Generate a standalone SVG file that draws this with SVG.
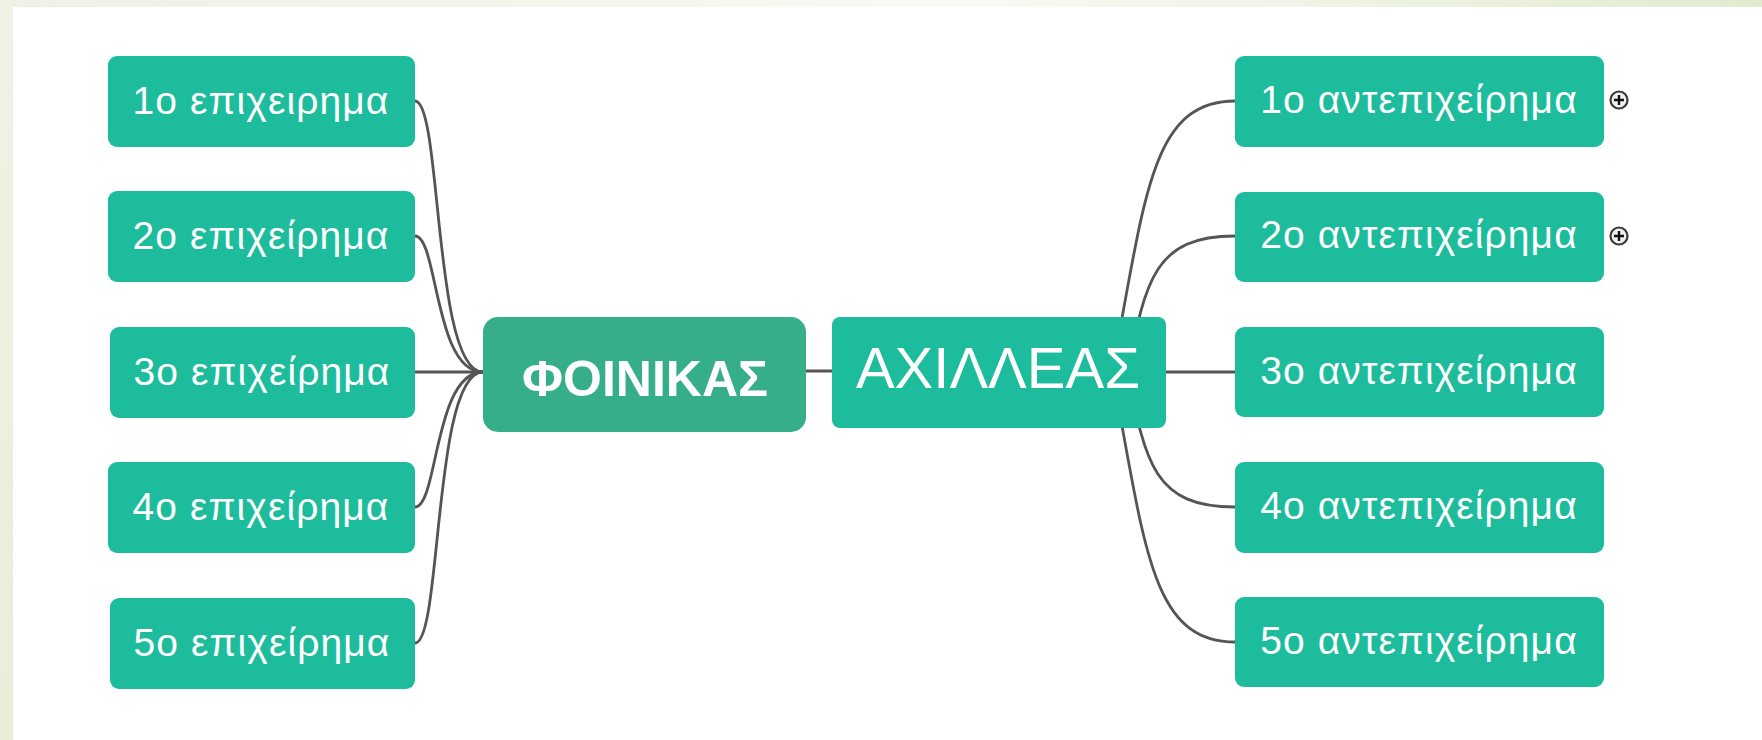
<svg xmlns="http://www.w3.org/2000/svg" width="1762" height="740" viewBox="0 0 1762 740">
  <defs>
    <linearGradient id="topband" x1="0" y1="0" x2="1" y2="0">
      <stop offset="0" stop-color="#eef1e3"/>
      <stop offset="0.55" stop-color="#f9faf4"/>
      <stop offset="1" stop-color="#e4ead0"/>
    </linearGradient>
    <linearGradient id="leftband" x1="0" y1="0" x2="0" y2="1">
      <stop offset="0" stop-color="#eff2e5"/>
      <stop offset="1" stop-color="#e9eed9"/>
    </linearGradient>
    <style>
      .child { fill: #1dbc9c; }
      .ctext { font-family: "Liberation Sans", Arial, sans-serif; font-size: 39px; letter-spacing: 1.1px; fill: #ffffff; text-anchor: middle; }
      .conn { fill: none; stroke: #555555; stroke-width: 2.8; stroke-linecap: round; }
      .plus-ring { fill: #f0f0f0; stroke: #3a3a3a; stroke-width: 2.2; }
      .plus-mark { stroke: #111; stroke-width: 2.4; }
    </style>
  </defs>

  <rect x="0" y="0" width="1762" height="740" fill="#ffffff"/>
  <rect x="0" y="0" width="1762" height="7" fill="url(#topband)"/>
  <rect x="0" y="0" width="13" height="740" fill="url(#leftband)"/>

  <g id="connectors">
    <path class="conn" d="M415,101 C442,101 433,372 483,372"/>
    <path class="conn" d="M415,236 C438,236 434,372 483,372"/>
    <path class="conn" d="M415,372 L483,372"/>
    <path class="conn" d="M415,507 C438,507 434,372 483,372"/>
    <path class="conn" d="M415,643 C442,643 433,372 483,372"/>
    <path class="conn" d="M806,371 L832,371"/>
    <path class="conn" d="M1112,372 C1145,200 1150,101 1235,101"/>
    <path class="conn" d="M1128,372 C1145,280 1155,236 1235,236"/>
    <path class="conn" d="M1166,372 L1235,372"/>
    <path class="conn" d="M1128,372 C1145,464 1155,507 1235,507"/>
    <path class="conn" d="M1112,372 C1145,544 1150,642 1235,642"/>
  </g>

  <g id="node-foinikas">
    <rect x="483" y="317" width="323" height="115" rx="15" fill="#37ae8a"/>
    <text x="645" y="396" font-family="'Liberation Sans', Arial, sans-serif" font-size="50" font-weight="bold" fill="#ffffff" text-anchor="middle">ΦΟΙΝΙΚΑΣ</text>
  </g>

  <g id="node-axilleas">
    <rect x="832" y="317" width="334" height="111" rx="8" fill="#1dbc9c"/>
    <text x="998" y="388" font-family="'Liberation Sans', Arial, sans-serif" font-size="58" fill="#ffffff" text-anchor="middle">ΑΧΙΛΛΕΑΣ</text>
  </g>

  <g id="node-epi1">
    <rect class="child" x="108" y="56" width="307" height="91" rx="9"/>
    <text class="ctext" x="261" y="114">1ο επιχειρημα</text>
  </g>
  <g id="node-epi2">
    <rect class="child" x="108" y="191" width="307" height="91" rx="9"/>
    <text class="ctext" x="261" y="249">2ο επιχείρημα</text>
  </g>
  <g id="node-epi3">
    <rect class="child" x="110" y="327" width="305" height="91" rx="9"/>
    <text class="ctext" x="262" y="385">3ο επιχείρημα</text>
  </g>
  <g id="node-epi4">
    <rect class="child" x="108" y="462" width="307" height="91" rx="9"/>
    <text class="ctext" x="261" y="520">4ο επιχείρημα</text>
  </g>
  <g id="node-epi5">
    <rect class="child" x="110" y="598" width="305" height="91" rx="9"/>
    <text class="ctext" x="262" y="656">5ο επιχείρημα</text>
  </g>

  <g id="node-ant1">
    <rect class="child" x="1235" y="56" width="369" height="91" rx="9"/>
    <text class="ctext" x="1419" y="113">1ο αντεπιχείρημα</text>
    <circle class="plus-ring" cx="1619" cy="100" r="8.5"/>
    <path class="plus-mark" d="M1614,100 H1624 M1619,95 V105"/>
  </g>
  <g id="node-ant2">
    <rect class="child" x="1235" y="192" width="369" height="90" rx="9"/>
    <text class="ctext" x="1419" y="248">2ο αντεπιχείρημα</text>
    <circle class="plus-ring" cx="1619" cy="236" r="8.5"/>
    <path class="plus-mark" d="M1614,236 H1624 M1619,231 V241"/>
  </g>
  <g id="node-ant3">
    <rect class="child" x="1235" y="327" width="369" height="90" rx="9"/>
    <text class="ctext" x="1419" y="384">3ο αντεπιχείρημα</text>
  </g>
  <g id="node-ant4">
    <rect class="child" x="1235" y="462" width="369" height="91" rx="9"/>
    <text class="ctext" x="1419" y="519">4ο αντεπιχείρημα</text>
  </g>
  <g id="node-ant5">
    <rect class="child" x="1235" y="597" width="369" height="90" rx="9"/>
    <text class="ctext" x="1419" y="654">5ο αντεπιχείρημα</text>
  </g>
</svg>
